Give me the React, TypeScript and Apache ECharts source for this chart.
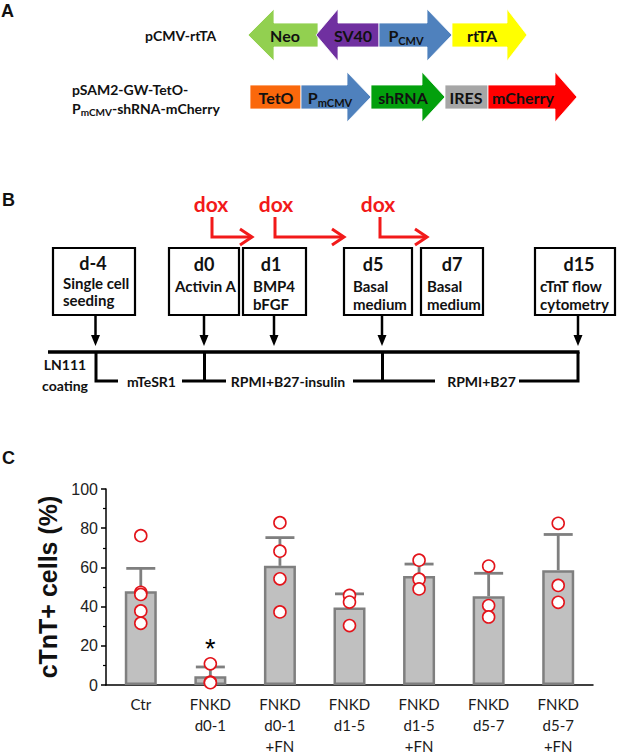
import React, { useEffect, useRef } from "react";
import * as echarts from "echarts";

// ---------- Panel C data ----------
const categories = [
  "Ctr",
  "FNKD\nd0-1",
  "FNKD\nd0-1\n+FN",
  "FNKD\nd1-5",
  "FNKD\nd1-5\n+FN",
  "FNKD\nd5-7",
  "FNKD\nd5-7\n+FN",
];
const means = [47.8, 4.5, 60.8, 39.5, 55.6, 45.3, 58.6];
const sds = [11.7, 4.7, 14.4, 7.0, 6.1, 11.7, 18.2];
const significance = ["", "*", "", "", "", "", ""];
const replicates = [
  [76.2, 47.3, 46.2, 37.8, 31.5],
  [10.8, 1.5, 1.2],
  [82.8, 68.3, 54.2, 37.3],
  [45.7, 42.3, 30.3],
  [63.7, 54.0, 49.0],
  [60.7, 40.5, 34.7],
  [82.5, 50.8, 42.2],
];
const yAxisTitle = "cTnT+ cells (%)";

// ---------- Panel A / B labels ----------
const constructNames = ["pCMV-rtTA", "pSAM2-GW-TetO-"];
const dayHeaders = ["d-4", "d0", "d1", "d5", "d7", "d15"];
const dayNotes = [
  ["Single cell", "seeding"],
  ["Activin A"],
  ["BMP4", "bFGF"],
  ["Basal", "medium"],
  ["Basal", "medium"],
  ["cTnT flow", "cytometry"],
];
const mediaLabels = ["mTeSR1", "RPMI+B27-insulin", "RPMI+B27"];

const LATO = 'Lato, "Open Sans", sans-serif';
const ARIAL = '"Liberation Sans", Arial, sans-serif';

function txt(x: number, y: number, text: string, size: number, o: any = {}) {
  const align = o.align || "center";
  return {
    type: "text",
    x,
    y,
    silent: true,
    style: {
      text,
      fill: o.color || "#111",
      font: `${o.weight || "bold"} ${size}px ${o.family || LATO}`,
      textAlign: align,
      align,
      textVerticalAlign: "middle",
      verticalAlign: "middle",
    },
  };
}

function richTxt(x: number, y: number, main: string, sub: string, rest: string, size: number, subSize: number, align = "center") {
  const parts = `{p|${main}}{s|${sub}}` + (rest ? `{p|${rest}}` : "");
  return {
    type: "text",
    x,
    y,
    silent: true,
    style: {
      text: parts,
      fill: "#111",
      textAlign: align,
      align,
      textVerticalAlign: "middle",
      verticalAlign: "middle",
      rich: {
        p: { fontSize: size, fontWeight: "bold", fontFamily: LATO, fill: "#111", color: "#111" },
        s: {
          fontSize: subSize,
          fontWeight: "bold",
          fontFamily: LATO,
          fill: "#111",
          color: "#111",
          padding: [Math.round(size * 0.6), 0, 0, 0],
        },
      },
    },
  };
}

function arrowShape(tail: number, base: number, tip: number, cy: number, bh: number, hh: number, color: string) {
  return {
    type: "polygon",
    silent: true,
    shape: {
      points: [
        [tail, cy - bh],
        [base, cy - bh],
        [base, cy - hh],
        [tip, cy],
        [base, cy + hh],
        [base, cy + bh],
        [tail, cy + bh],
      ],
    },
    style: { fill: color, stroke: "#ffffff", lineWidth: 0.8 },
  };
}

function rectShape(x0: number, x1: number, cy: number, bh: number, color: string) {
  return {
    type: "rect",
    silent: true,
    shape: { x: x0, y: cy - bh, width: x1 - x0, height: bh * 2 },
    style: { fill: color, stroke: "#ffffff", lineWidth: 0.8 },
  };
}

function line(x1: number, y1: number, x2: number, y2: number, color = "#000", w = 3) {
  return { type: "line", silent: true, shape: { x1, y1, x2, y2 }, style: { stroke: color, lineWidth: w } };
}
function pline(points: number[][], color = "#000", w = 3) {
  return { type: "polyline", silent: true, shape: { points }, style: { stroke: color, lineWidth: w, fill: "none" } };
}

function buildGraphic() {
  const g: any[] = [];
  // Panel letters
  g.push(txt(1, 11, "A", 18, { family: ARIAL, align: "left" }));
  g.push(txt(2, 200, "B", 18, { family: ARIAL, align: "left" }));
  g.push(txt(2, 458, "C", 18, { family: ARIAL, align: "left" }));

  // ---- Panel A ----
  const cy1 = 35, cy2 = 97;
  g.push(txt(145, cy1, constructNames[0], 14, { align: "left" }));
  g.push(txt(72, 89, constructNames[1], 14, { align: "left" }));
  g.push(richTxt(72, 108, "P", "mCMV", "-shRNA-mCherry", 14, 10, "left"));

  g.push(arrowShape(318, 274, 248, cy1, 12, 26, "#92d050"));
  g.push(arrowShape(379, 338, 316, cy1, 12, 26, "#7030a0"));
  g.push(arrowShape(379, 427, 452, cy1, 12, 26, "#4f81bd"));
  g.push(arrowShape(452, 507, 527, cy1, 12, 26, "#ffff00"));
  g.push(txt(285, cy1, "Neo", 16));
  g.push(txt(353, cy1, "SV40", 16));
  g.push(richTxt(406, cy1, "P", "CMV", "", 16, 11));
  g.push(txt(482, cy1, "rtTA", 16));

  g.push(rectShape(250, 301, cy2, 12, "#fa680c"));
  g.push(arrowShape(301, 347, 371, cy2, 12, 25, "#4f81bd"));
  g.push(arrowShape(371, 422, 445, cy2, 12, 25, "#03a00d"));
  g.push(rectShape(445, 488, cy2, 12, "#a6a6a6"));
  g.push(arrowShape(488, 555, 577, cy2, 12, 25, "#ff0000"));
  g.push(txt(276, cy2, "TetO", 16));
  g.push(richTxt(330, cy2, "P", "mCMV", "", 16, 11));
  g.push(txt(403, cy2, "shRNA", 16));
  g.push(txt(466, cy2, "IRES", 16));
  g.push(txt(523, cy2, "mCherry", 16));

  // ---- Panel B ----
  const red = "#f21a1a";
  const doxX = [211, 276, 378];
  const doxArrows = [
    [212, 252],
    [275, 344],
    [380, 427],
  ];
  doxX.forEach((x) => g.push(txt(x, 203, "dox", 21, { color: red })));
  doxArrows.forEach(([x0, x1]) => {
    g.push(pline([[x0, 217], [x0, 237], [x1, 237]], red, 3));
    g.push(pline([[x1 - 12, 229], [x1, 237], [x1 - 12, 245]], red, 3));
  });

  const boxes = [
    [53, 135],
    [169, 239],
    [243, 306],
    [344, 412],
    [421, 483],
    [535, 615],
  ];
  const headerX = [93, 204, 271, 373, 452, 579];
  const noteX = [63, 175, 253, 353, 427, 540];
  boxes.forEach(([x0, x1], i) => {
    g.push({
      type: "rect",
      silent: true,
      shape: { x: x0, y: 248, width: x1 - x0, height: 67 },
      style: { fill: "none", stroke: "#000", lineWidth: 2.2 },
    });
    const hy = i === 0 ? 263 : 264;
    g.push(txt(headerX[i], hy, dayHeaders[i], 18));
    const ny = i === 0 ? [283, 300] : [286, 304];
    dayNotes[i].forEach((t, k) => g.push(txt(noteX[i], ny[k], t, 15, { align: "left" })));
  });

  // down arrows to timeline
  const arrowX = [95.5, 204, 274, 382, 578];
  arrowX.forEach((x) => {
    g.push(line(x, 315, x, 337, "#000", 2.5));
    g.push({
      type: "polygon",
      silent: true,
      shape: { points: [[x - 4.5, 335], [x + 4.5, 335], [x, 346]] },
      style: { fill: "#000" },
    });
  });

  // timeline
  const ty = 352, by = 381;
  g.push(line(48, ty, 579.5, ty, "#000", 3.5));
  g.push(pline([[96, ty], [96, by], [118, by]], "#000", 3));
  g.push(line(182, by, 226, by));
  g.push(line(204.5, ty, 204.5, by));
  g.push(line(353, by, 435, by));
  g.push(line(382.5, ty, 382.5, by));
  g.push(pline([[519, by], [578, by], [578, ty]], "#000", 3));
  g.push(txt(65, 364, "LN111", 14));
  g.push(txt(65, 385, "coating", 14));
  g.push(txt(151.5, by, mediaLabels[0], 14));
  g.push(txt(288, by, mediaLabels[1], 14));
  g.push(txt(481.5, by, mediaLabels[2], 14));
  return g;
}

const GREY = "#7f7f7f";

function buildOption(): any {
  const points: number[][] = [];
  replicates.forEach((arr, i) => arr.forEach((v) => points.push([i, v])));
  return {
    animation: false,
    backgroundColor: "#ffffff",
    graphic: buildGraphic(),
    grid: { left: 106, top: 489, width: 487, height: 200 },
    xAxis: {
      type: "category",
      data: categories,
      axisLine: { lineStyle: { color: "#000", width: 1.5 } },
      axisTick: { alignWithLabel: true, length: 5, lineStyle: { color: "#000", width: 1.5 } },
      axisLabel: {
        interval: 0,
        margin: 8,
        fontFamily: LATO,
        fontSize: 15,
        lineHeight: 21,
        color: "#1a1a1a",
      },
    },
    yAxis: {
      type: "value",
      min: 0,
      max: 100,
      interval: 20,
      name: yAxisTitle,
      nameLocation: "middle",
      nameGap: 46,
      nameTextStyle: { fontFamily: ARIAL, fontWeight: "bold", fontSize: 25, color: "#111" },
      axisLine: { show: true, lineStyle: { color: "#000", width: 1.5 } },
      axisTick: { show: true, length: 5, lineStyle: { color: "#000", width: 1.5 } },
      minorTick: { show: true, splitNumber: 2, length: 3, lineStyle: { color: "#000", width: 1.2 } },
      splitLine: { show: false },
      axisLabel: { margin: 8, fontFamily: ARIAL, fontSize: 16, color: "#222" },
    },
    series: [
      {
        type: "bar",
        data: means,
        barWidth: 32,
        silent: true,
        z: 2,
        itemStyle: { color: "#c0c0c0", borderColor: GREY, borderWidth: 2.5 },
      },
      {
        type: "custom",
        z: 3,
        silent: true,
        data: means.map((m, i) => [i, m, m + sds[i]]),
        encode: { x: 0, y: [1, 2] },
        renderItem: (params: any, api: any) => {
          const i = api.value(0);
          const b = api.coord([i, api.value(1)]);
          const t = api.coord([i, api.value(2)]);
          const half = 14.5;
          const children: any[] = [
            { type: "line", shape: { x1: b[0], y1: b[1], x2: t[0], y2: t[1] }, style: { stroke: GREY, lineWidth: 2.8 } },
            { type: "line", shape: { x1: t[0] - half, y1: t[1], x2: t[0] + half, y2: t[1] }, style: { stroke: GREY, lineWidth: 2.8 } },
          ];
          const s = significance[params.dataIndex];
          if (s) {
            children.push({
              type: "text",
              x: t[0],
              y: t[1] - 18,
              style: {
                text: s,
                fill: "#000",
                font: `normal 27px ${ARIAL}`,
                textAlign: "center",
                align: "center",
                textVerticalAlign: "middle",
                verticalAlign: "middle",
              },
            });
          }
          return { type: "group", children };
        },
      },
      {
        type: "scatter",
        data: points,
        symbol: "circle",
        symbolSize: 12,
        z: 4,
        silent: true,
        itemStyle: { color: "#ffffff", borderColor: "#e3141b", borderWidth: 1.6, opacity: 1 },
      },
    ],
  };
}

export default function App() {
  const ref = useRef<HTMLDivElement>(null);
  useEffect(() => {
    if (!ref.current) return;
    const chart = echarts.init(ref.current, undefined, { renderer: "svg" });
    chart.setOption(buildOption());
    return () => chart.dispose();
  }, []);
  return (
    <div
      ref={ref}
      style={{ position: "fixed", left: 0, top: 0, width: 617, height: 756, background: "#fff" }}
    />
  );
}
